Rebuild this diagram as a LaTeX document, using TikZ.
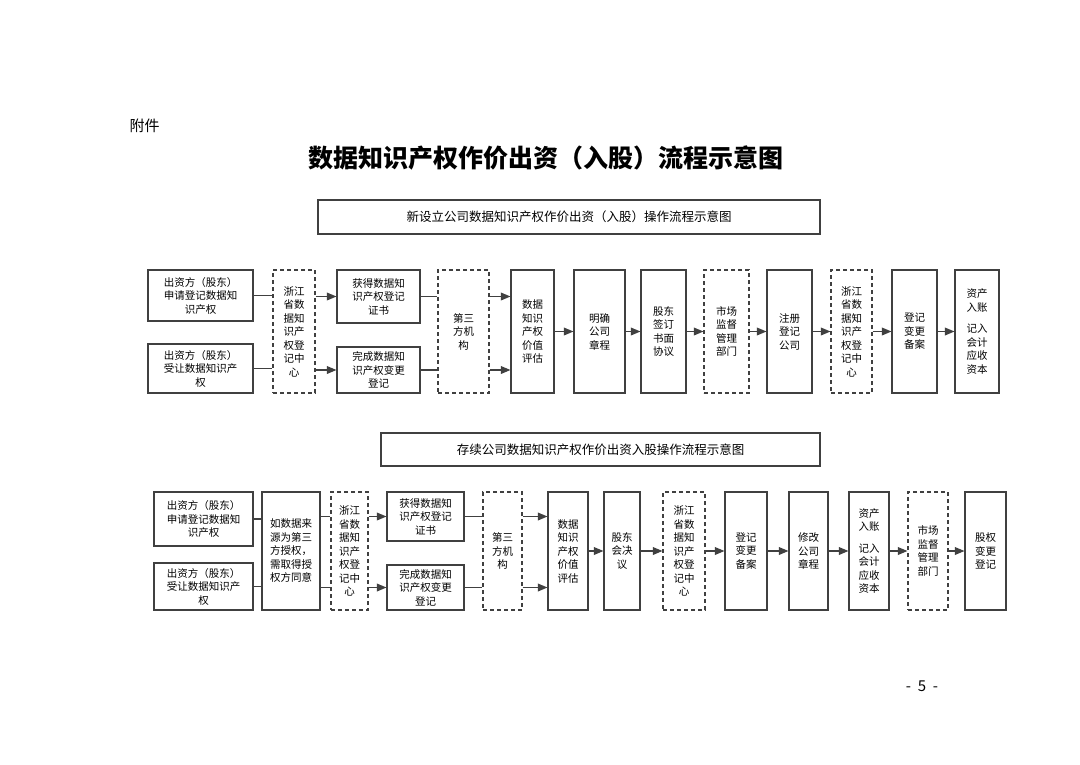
\documentclass[tikz,border=0pt]{standalone}
\usepackage{fontspec}
\setmainfont{Noto Sans CJK SC}
\usetikzlibrary{positioning,arrows}
\newcommand{\bx}[7]{\node[#6, minimum width={(#4-#2)*1pt}, minimum height={(#5-#3)*1pt}] (#1) at ({(#2+#4)/2},{(#3+#5)/2}) {#7};}
\begin{document}
\begin{tikzpicture}
          [x=1pt, y=-1pt, font=\fontsize{10.5}{13.5}\selectfont,
          % STYLES
          % solid process box
          procbox/.style={rectangle, draw=black!75, line width=1.2pt, inner sep=0pt, align=center},
          % dashed institution box
          orgbox/.style={rectangle, draw=black!75, dash pattern=on 4pt off 3pt, line width=1.2pt, inner sep=0pt, align=center},
          % title box of each flow
          headbox/.style={rectangle, draw=black!75, line width=1.2pt, font=\fontsize{12.5}{15}\selectfont},
          link/.style={line width=1.2pt, draw=black!75},
          flow/.style={line width=1.2pt, draw=black!75, -triangle 45}]

          \useasboundingbox (0,0) rectangle (1080,764);
          \node[anchor=west, font=\fontsize{15}{18}\selectfont] (att) at (126,126) {附件};
          \node[font=\fontsize{25}{30}\selectfont\bfseries] (title) at (546,158) {数据知识产权作价出资（入股）流程示意图};
          \node (page) at (922,686) {\fontsize{15}{18}\selectfont -\ \ 5\ \ -};

          % First flow
          \bx{head1}{318}{200}{820}{234}{headbox}{新设立公司数据知识产权作价出资（入股）操作流程示意图}
          \bx{ta1}{148}{270}{253}{321}{procbox}{出资方（股东）\\申请登记数据知\\识产权}
          \bx{ta2}{148}{344}{253}{393}{procbox}{出资方（股东）\\受让数据知识产\\权}
          \bx{tzj}{273}{270}{315}{393}{orgbox}{浙江\\省数\\据知\\识产\\权登\\记中\\心}
          \bx{tc1}{337}{270}{420}{323}{procbox}{获得数据知\\识产权登记\\证书}
          \bx{tc2}{337}{347}{420}{393}{procbox}{完成数据知\\识产权变更\\登记}
          \bx{ttp}{438}{270}{489}{393}{orgbox}{第三\\方机\\构}
          \bx{tev}{511}{270}{554}{393}{procbox}{数据\\知识\\产权\\价值\\评估}
          \bx{tzc}{574}{270}{625}{393}{procbox}{明确\\公司\\章程}
          \bx{txy}{641}{270}{686}{393}{procbox}{股东\\签订\\书面\\协议}
          \bx{tsc}{704}{270}{749}{393}{orgbox}{市场\\监督\\管理\\部门}
          \bx{tzc2}{767}{270}{812}{393}{procbox}{注册\\登记\\公司}
          \bx{tzj2}{831}{270}{872}{393}{orgbox}{浙江\\省数\\据知\\识产\\权登\\记中\\心}
          \bx{tba}{892}{270}{937}{393}{procbox}{登记\\变更\\备案}
          \bx{tzb}{955}{270}{999}{393}{procbox}{资产\\入账\\[8pt]记入\\会计\\应收\\资本}

          \draw[link] (ta1.east) -- (ta1.east -| tzj.west);
          \draw[link] (ta2.east) -- (ta2.east -| tzj.west);
          \draw[flow] (tzj.east |- tc1) -- (tc1.west);
          \draw[flow] (tzj.east |- tc2) -- (tc2.west);
          \draw[link] (tc1.east) -- (tc1.east -| ttp.west);
          \draw[link] (tc2.east) -- (tc2.east -| ttp.west);
          \draw[flow] (ttp.east |- tc1) -- (tev.west |- tc1);
          \draw[flow] (ttp.east |- tc2) -- (tev.west |- tc2);
          \foreach \a/\b in {tev/tzc, tzc/txy, txy/tsc, tsc/tzc2, tzc2/tzj2, tzj2/tba, tba/tzb}
            \draw[flow] (\a) -- (\b);

          % Second flow
          \bx{head2}{381}{433}{820}{466}{headbox}{存续公司数据知识产权作价出资入股操作流程示意图}
          \bx{ba1}{154}{492}{253}{546}{procbox}{出资方（股东）\\申请登记数据知\\识产权}
          \bx{ba2}{154}{563}{253}{610}{procbox}{出资方（股东）\\受让数据知识产\\权}
          \bx{bsq}{262}{492}{320}{610}{procbox}{如数据来\\源为第三\\方授权，\\需取得授\\权方同意}
          \bx{bzj}{331}{492}{368}{610}{orgbox}{浙江\\省数\\据知\\识产\\权登\\记中\\心}
          \bx{bc1}{387}{492}{464}{541}{procbox}{获得数据知\\识产权登记\\证书}
          \bx{bc2}{387}{565}{464}{610}{procbox}{完成数据知\\识产权变更\\登记}
          \bx{btp}{483}{492}{522}{610}{orgbox}{第三\\方机\\构}
          \bx{bev}{548}{492}{588}{610}{procbox}{数据\\知识\\产权\\价值\\评估}
          \bx{bjy}{604}{492}{640}{610}{procbox}{股东\\会决\\议}
          \bx{bzj2}{663}{492}{705}{610}{orgbox}{浙江\\省数\\据知\\识产\\权登\\记中\\心}
          \bx{bba}{725}{492}{767}{610}{procbox}{登记\\变更\\备案}
          \bx{bzc}{789}{492}{828}{610}{procbox}{修改\\公司\\章程}
          \bx{bzb}{849}{492}{889}{610}{procbox}{资产\\入账\\[8pt]记入\\会计\\应收\\资本}
          \bx{bsc}{908}{492}{948}{610}{orgbox}{市场\\监督\\管理\\部门}
          \bx{bgq}{965}{492}{1006}{610}{procbox}{股权\\变更\\登记}

          \draw[link] (ba1.east) -- (ba1.east -| bsq.west);
          \draw[link] (ba2.east) -- (ba2.east -| bsq.west);
          \draw[link] (bsq.east |- bc1) -- (bzj.west |- bc1);
          \draw[link] (bsq.east |- bc2) -- (bzj.west |- bc2);
          \draw[flow] (bzj.east |- bc1) -- (bc1.west);
          \draw[flow] (bzj.east |- bc2) -- (bc2.west);
          \draw[link] (bc1.east) -- (bc1.east -| btp.west);
          \draw[link] (bc2.east) -- (bc2.east -| btp.west);
          \draw[flow] (btp.east |- bc1) -- (bev.west |- bc1);
          \draw[flow] (btp.east |- bc2) -- (bev.west |- bc2);
          \foreach \a/\b in {bev/bjy, bjy/bzj2, bzj2/bba, bba/bzc, bzc/bzb, bzb/bsc, bsc/bgq}
            \draw[flow] (\a) -- (\b);
\end{tikzpicture}
\end{document}
